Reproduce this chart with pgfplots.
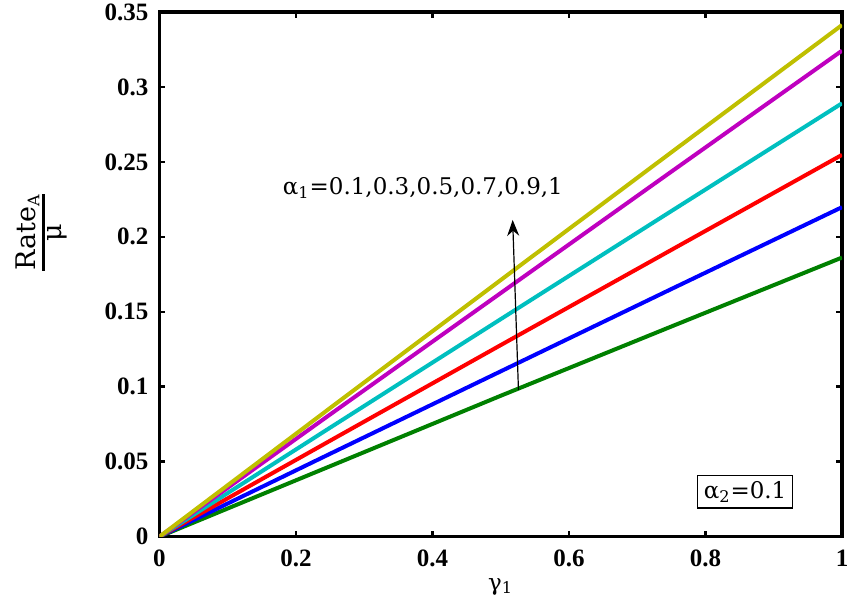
\documentclass[border=0pt]{standalone}
\usepackage{fontspec}
\setmainfont{DejaVu Serif}
\newfontfamily\tickfont{Liberation Serif}
\usepackage{pgfplots}
\pgfplotsset{compat=1.18}
\usetikzlibrary{arrows.meta}
\definecolor{mgreen}{rgb}{0,0.5,0}
\definecolor{mblue}{rgb}{0,0,1}
\definecolor{mred}{rgb}{1,0,0}
\definecolor{mcyan}{rgb}{0,0.75,0.75}
\definecolor{mmag}{rgb}{0.75,0,0.75}
\definecolor{myel}{rgb}{0.75,0.75,0}
\begin{document}
\begin{tikzpicture}
\begin{axis}[
  scale only axis, width=341.5pt, height=262.5pt,
  xmin=0, xmax=1, ymin=0, ymax=0.35,
  xtick={0,0.2,0.4,0.6,0.8,1},
  ytick={0,0.05,0.1,0.15,0.2,0.25,0.3,0.35},
  tick align=inside, major tick length=3pt,
  axis line style={line width=1.6pt},
  tick style={line width=1.3pt, black},
  /pgf/number format/assume math mode=true,
  ticklabel style={font=\tickfont\bfseries\fontsize{12.5}{14}\selectfont},
  scaled y ticks=false, scaled x ticks=false,
  yticklabel style={/pgf/number format/fixed, /pgf/number format/precision=2, xshift=-2pt},
  xticklabel style={/pgf/number format/fixed, yshift=-3pt},
  xlabel={γ\textsubscript{1}},
  xlabel style={font=\fontsize{11.5}{13}\selectfont, at={(axis description cs:0.5,0)}, anchor=center, yshift=-25pt},
  ylabel={${\displaystyle\mbox{Rate}_{\mbox{\fontsize{8}{9}\selectfont A}}\above 1.4pt\displaystyle\mbox{μ}}$},
  ylabel style={font=\fontsize{13.5}{15}\selectfont, at={(axis description cs:0,0.58)}, anchor=center, yshift=59pt},
  every axis plot/.append style={line width=2pt},
]
\addplot[mgreen] coordinates {(0,0) (0.25,0.0470) (0.5,0.0940) (0.75,0.1402) (1,0.1862)};
\addplot[mblue] coordinates {(0,0) (0.25,0.0553) (0.5,0.1103) (0.75,0.1652) (1,0.2198)};
\addplot[mred] coordinates {(0,0) (0.25,0.0640) (0.5,0.1278) (0.75,0.1913) (1,0.2547)};
\addplot[mcyan] coordinates {(0,0) (0.25,0.0727) (0.5,0.1451) (0.75,0.2172) (1,0.2891)};
\addplot[mmag] coordinates {(0,0) (0.25,0.0815) (0.5,0.1625) (0.75,0.2435) (1,0.3242)};
\addplot[myel] coordinates {(0,0) (0.25,0.0858) (0.5,0.1712) (0.75,0.2564) (1,0.3413)};
\node[font=\fontsize{11.5}{13}\selectfont] at (axis cs:0.386,0.2327) {α\textsubscript{1}{=}0.1,0.3,0.5,0.7,0.9,1};
\draw[-{Stealth[length=8pt,width=6pt]}, line width=0.6pt] (axis cs:0.526,0.098) -- (axis cs:0.5175,0.2113);
\node[draw, line width=0.6pt, inner sep=3pt, font=\fontsize{11.5}{13}\selectfont] at (axis cs:0.858,0.030) {α\textsubscript{2}{=}0.1};
\end{axis}
\pgfresetboundingbox
\path ([xshift=-79.75pt,yshift=-35pt]current axis.south west) rectangle ([xshift=4.5pt,yshift=6pt]current axis.north east);
\end{tikzpicture}
\end{document}
